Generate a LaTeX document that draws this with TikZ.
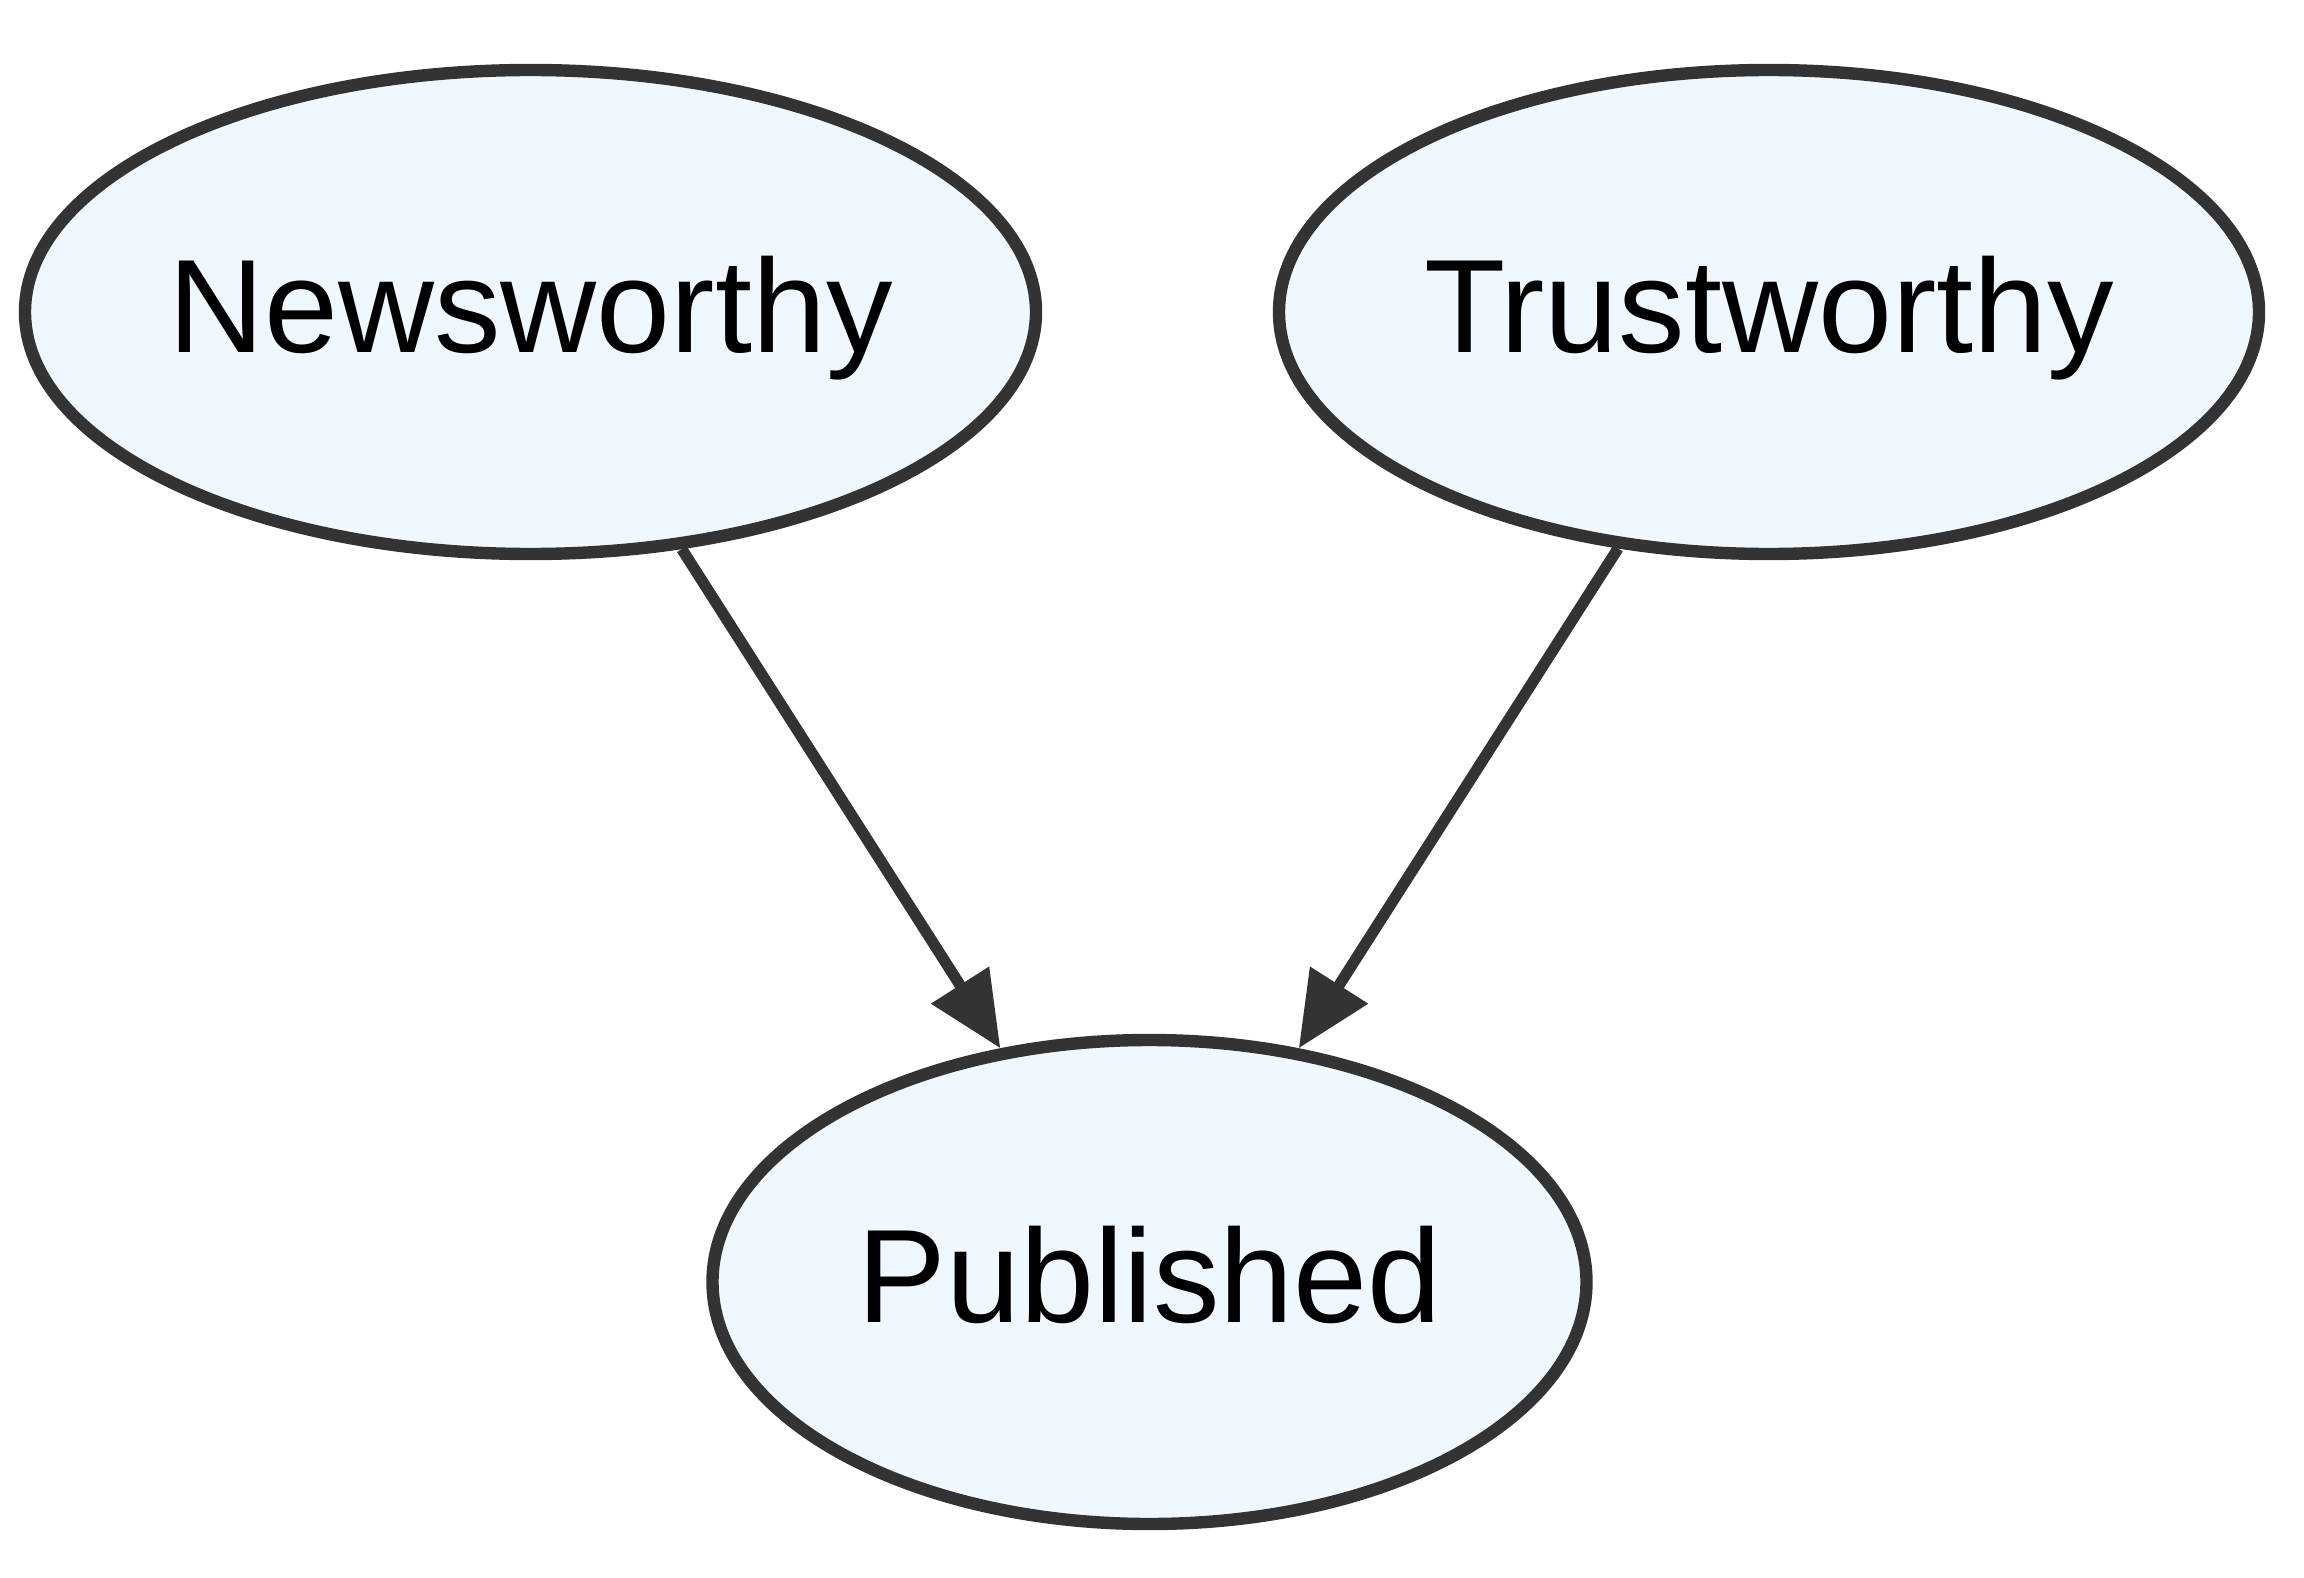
\documentclass[tikz,border=0pt]{standalone}
\usepackage{fontspec}
\setmainfont{Liberation Sans}
\usetikzlibrary{arrows.meta,shapes.geometric}
\definecolor{strokegray}{HTML}{333333}
\definecolor{nodefill}{HTML}{F0F8FF}
\tikzset{
  varnode/.style={ellipse, draw=strokegray, fill=nodefill, line width=6.2pt,
    inner sep=0pt, minimum height=242pt, text height=40.5pt, text depth=0pt,
    font=\fontsize{66.5pt}{80pt}\selectfont},
  causal/.style={draw=strokegray, line width=5.6pt,
    -{Triangle[length=37.5pt,width=33pt]}, fill=strokegray}
}
\newcommand{\lbl}[1]{\makebox[0pt][c]{#1}}
\begin{document}
\begin{tikzpicture}[x=0.5pt,y=-0.5pt]
  \useasboundingbox (0,0) rectangle (2304,1578);
  \node[varnode, minimum width=505.5pt] (news) at (530.5,312) {\lbl{Newsworthy}};
  \node[varnode, minimum width=490pt] (trust) at (1769,312) {\lbl{Trustworthy}};
  \node[varnode, minimum width=437pt] (pub) at (1149.5,1282) {\lbl{Published}};
  \draw[causal] (news) -- (pub);
  \draw[causal] (trust) -- (pub);
\end{tikzpicture}
\end{document}
